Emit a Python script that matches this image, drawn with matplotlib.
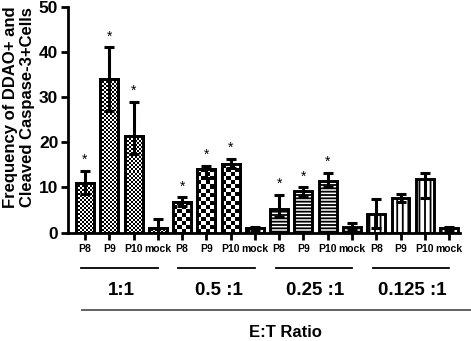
import numpy as np
import matplotlib
matplotlib.use('Agg')
import matplotlib.pyplot as plt

plt.rcParams['font.family'] = ['Liberation Sans', 'DejaVu Sans']
plt.rcParams['hatch.linewidth'] = 1.3

# data
groups = ['1:1', '0.5 :1', '0.25 :1', '0.125 :1']
samples = ['P8', 'P9', 'P10', 'mock']
values = [11.0, 34.0, 21.5, 1.0,
          6.8, 14.0, 15.3, 1.0,
          5.2, 9.3, 11.4, 1.3,
          4.1, 7.6, 11.9, 1.0]
err_lo = [2.5, 7.0, 4.0, 1.0,
          1.0, 1.8, 1.0, 0.3,
          1.8, 1.2, 1.2, 0.8,
          3.0, 0.9, 4.3, 0.3]
err_hi = [2.7, 7.0, 7.5, 2.0,
          1.0, 0.8, 1.0, 0.3,
          3.1, 0.7, 1.8, 0.9,
          3.3, 0.9, 1.4, 0.3]
significant = [True, True, True, False,
               True, True, True, False,
               True, True, True, False,
               False, False, False, False]
yticks = [0, 10, 20, 30, 40, 50]

# fill style per group: ('checker', cell px) or hatch string
fills = [('checker', 2), ('checker', 4), ('hatch', '-----'), ('hatch', '|||')]

fig = plt.figure(figsize=(4.71, 3.41), dpi=100)
ax = fig.add_axes([0.1444, 0.3176, 0.8322, 0.6628])

x = np.arange(len(values))
xlim = (-0.7, 15.45)
ylim = (0, 50)
ax.set_xlim(*xlim)
ax.set_ylim(*ylim)

bbox = ax.get_window_extent()
px_x = bbox.width / (xlim[1] - xlim[0])
px_y = bbox.height / (ylim[1] - ylim[0])

width = 0.74
edge_lw = 2.1
for i, v in enumerate(values):
    kind, spec = fills[i // 4]
    if kind == 'hatch':
        bar = ax.bar(x[i], v, width, facecolor='white', edgecolor='black',
                     linewidth=edge_lw, hatch=spec, zorder=2)[0]
    else:
        bar = ax.bar(x[i], v, width, facecolor='white', edgecolor='black',
                     linewidth=edge_lw, zorder=2)[0]
        x0 = bar.get_x()
        nx = max(1, int(round(width * px_x / spec)))
        ny = max(1, int(round(v * px_y / spec)))
        arr = np.add.outer(np.arange(ny), np.arange(nx)) % 2
        im = ax.imshow(arr, cmap='gray', extent=(x0, x0 + width, 0, ny * spec / px_y),
                       origin='lower', aspect='auto', interpolation='nearest', zorder=2.1)
        im.set_clip_path(bar)
        # redraw edge on top of the checker image
        ax.bar(x[i], v, width, facecolor='none', edgecolor='black',
               linewidth=edge_lw, zorder=2.2)

ax.errorbar(x, values, yerr=[err_lo, err_hi], fmt='none', ecolor='black',
            elinewidth=2.2, capsize=3.8, capthick=2.2, zorder=3)

for i, v in enumerate(values):
    if significant[i]:
        ax.text(x[i], v + err_hi[i] + 0.9, '*', ha='center', va='bottom',
                fontsize=10, zorder=4)

ax.set_xlim(*xlim)
ax.set_ylim(*ylim)

ax.spines['top'].set_visible(False)
ax.spines['right'].set_visible(False)
ax.spines['left'].set_linewidth(2.0)
ax.spines['bottom'].set_linewidth(2.0)

ax.set_yticks(yticks)
ax.set_yticklabels([str(t) for t in yticks], fontsize=12.5, fontweight='bold')
ax.tick_params(axis='y', length=5, width=2.0, pad=2)
ax.set_xticks(x)
ax.set_xticklabels(samples * len(groups), fontsize=7.5, fontweight='bold')
ax.tick_params(axis='x', length=5, width=2.0, pad=3)

ax.set_ylabel('Frequency of DDAO+ and\nCleaved Caspase-3+Cells', fontsize=12,
              fontweight='bold', linespacing=1.1)
ax.yaxis.set_label_coords(-0.085, 0.555)

# group annotations below the axis
trans = ax.get_xaxis_transform()
for g, name in enumerate(groups):
    start = g * 4
    ax.plot([start - 0.15, start + 3.0], [-0.155, -0.155], color='black',
            linewidth=1.3, transform=trans, clip_on=False)
    ax.text(start + 1.5, -0.254, name, ha='center', va='center', fontsize=13.5,
            fontweight='bold', transform=trans)

ax.plot([-0.12, 15.9], [-0.342, -0.342], color='#555555', linewidth=1.3,
        transform=trans, clip_on=False)
ax.text(8.25, -0.44, 'E:T Ratio', ha='center', va='center', fontsize=12,
        fontweight='bold', transform=trans)

fig.savefig('out.png', dpi=100)
